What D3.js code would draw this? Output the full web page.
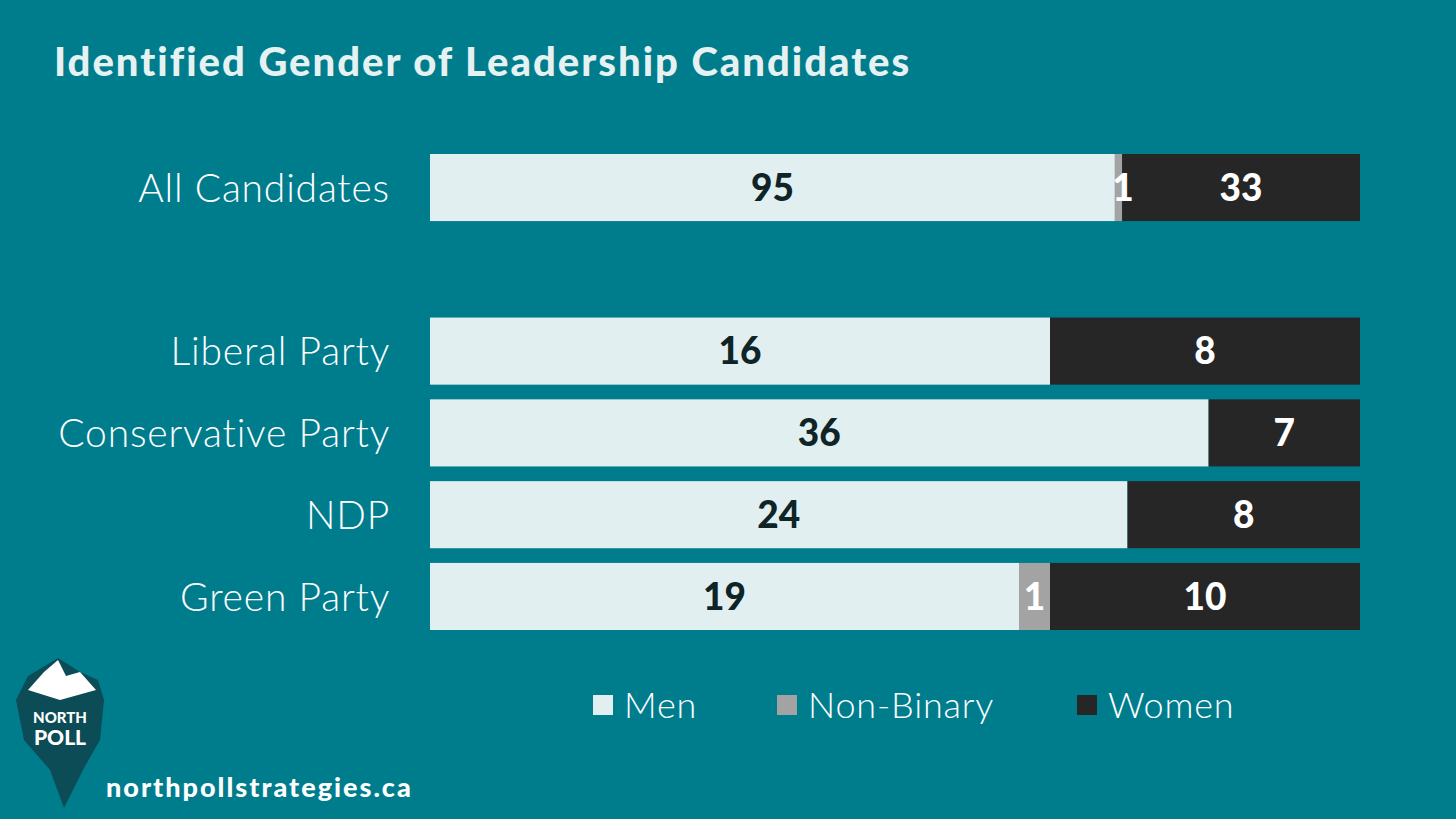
<!DOCTYPE html>
<head>
<meta charset="utf-8">
<script src="https://d3js.org/d3.v7.min.js"></script>
<style>
  body { margin: 0; background: #007d8d; }
  svg { display: block; }
</style>
</head>
<body>
<script>
const categories = ["All Candidates", "", "Liberal Party", "Conservative Party", "NDP", "Green Party"];
const men = [95, null, 16, 36, 24, 19];
const nonBinary = [1, null, 0, 0, 0, 1];
const women = [33, null, 8, 7, 8, 10];
const seriesNames = ["Men", "Non-Binary", "Women"];
const colors = ["#e1eff0", "#a3a3a3", "#262626"];
const textColors = ["#0f2426", "#ffffff", "#ffffff"];

const W = 1456, H = 819;
const svg = d3.select("body").append("svg").attr("width", W).attr("height", H);
svg.append("rect").attr("width", W).attr("height", H).attr("fill", "#007d8d");

svg.append("text").attr("x", 54).attr("y", 76)
  .attr("font-family", "Lato").attr("font-weight", 900).attr("font-size", 40)
  .attr("letter-spacing", 2)
  .attr("fill", "#e6f1f2").text("Identified Gender of Leadership Candidates");

const y = d3.scaleBand().domain(categories).range([154, 630]).paddingInner(0.18).paddingOuter(0);
const x = d3.scaleLinear().domain([0, 1]).range([430, 1360]);

const rows = categories.map((c, i) => ({ c, vals: [men[i], nonBinary[i], women[i]] }))
  .filter(r => r.c !== "");

const labels = [];
rows.forEach(r => {
  const total = d3.sum(r.vals);
  let acc = 0;
  r.vals.forEach((v, k) => {
    if (!v) return;
    const x0 = x(acc / total), x1 = x((acc + v) / total);
    acc += v;
    svg.append("rect").attr("x", x0).attr("y", y(r.c)).attr("width", x1 - x0)
      .attr("height", y.bandwidth()).attr("fill", colors[k]);
    // narrow segments: nudge the label so it stays readable
    const cx = (x1 - x0) < 20 ? x0 + 8 : (x0 + x1) / 2;
    labels.push({ x: cx, y: y(r.c) + y.bandwidth() / 2, v, k });
  });
  svg.append("text").attr("x", 390).attr("y", y(r.c) + y.bandwidth() / 2)
    .attr("dy", "0.36em").attr("text-anchor", "end")
    .attr("font-family", "Lato").attr("font-weight", 300).attr("font-size", 39)
    .attr("letter-spacing", 0.8)
    .attr("fill", "#ffffff").text(r.c);
});
labels.forEach(l => {
  svg.append("text").attr("x", l.x).attr("y", l.y)
    .attr("dy", "0.36em").attr("text-anchor", "middle")
    .attr("font-family", "Lato").attr("font-weight", 900).attr("font-size", 37)
    .attr("fill", textColors[l.k]).text(l.v);
});

const legendX = [593, 777, 1077];
seriesNames.forEach((n, k) => {
  svg.append("rect").attr("x", legendX[k]).attr("y", 695).attr("width", 20).attr("height", 20)
    .attr("fill", colors[k]);
  svg.append("text").attr("x", legendX[k] + 31).attr("y", 705).attr("dy", "0.36em")
    .attr("font-family", "Lato").attr("font-weight", 300).attr("font-size", 36)
    .attr("letter-spacing", 0.8)
    .attr("fill", "#ffffff").text(n);
});

// logo
const logo = svg.append("g");
logo.append("path").attr("d", "M58,658 L80,672 L98,680 L104,700 L100,740 L84,768 L64,808 L50,770 L24,740 L16,700 L28,676 Z")
  .attr("fill", "#0c4c56");
logo.append("path").attr("d", "M28,690 L44,672 L58,660 L66,676 L80,672 L96,690 L60,700 Z")
  .attr("fill", "#ffffff");
logo.append("text").attr("x", 60).attr("y", 723).attr("text-anchor", "middle")
  .attr("font-family", "Lato").attr("font-weight", 900).attr("font-size", 15).attr("fill", "#fff").text("NORTH");
logo.append("text").attr("x", 60).attr("y", 745).attr("text-anchor", "middle")
  .attr("font-family", "Lato").attr("font-weight", 900).attr("font-size", 21).attr("fill", "#fff").text("POLL");

svg.append("text").attr("x", 106).attr("y", 797)
  .attr("font-family", "Lato").attr("font-weight", 900).attr("font-size", 27)
  .attr("letter-spacing", 2)
  .attr("fill", "#ffffff").text("northpollstrategies.ca");
</script>
</body>
